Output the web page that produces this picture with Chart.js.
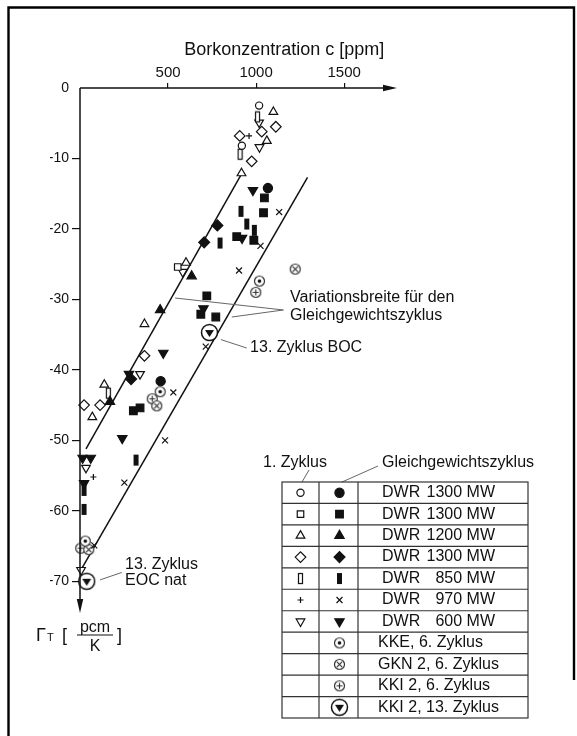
<!DOCTYPE html>
<html>
<head>
<meta charset="utf-8">
<script src="https://cdn.jsdelivr.net/npm/chart.js@4.4.1/dist/chart.umd.min.js"></script>
<style>
  html, body { margin: 0; padding: 0; background: #fff; }
  canvas { display: block; }
</style>
</head>
<body>
<canvas id="gammaChart" width="577" height="736"></canvas>
<script>
// Temperature coefficient vs. boron concentration, several PWR plants
const xTicks = [500, 1000, 1500];
const yTicks = [0, -10, -20, -30, -40, -50, -60, -70];

// [c ppm, gamma pcm/K] — open = 1st cycle, filled = equilibrium cycle
const circleOpen = [[1017, -2.5], [919, -8.2]];
const circleFilled = [[1067, -14.2], [458, -41.6]];
const squareOpen = [[555, -25.4]];
const squareFilled = [[1047, -15.6], [1042, -17.7], [890, -21.1], [987, -21.6], [720, -29.5],
  [686, -32.1], [771, -32.5], [303, -45.8], [341, -45.4]];
const triOpen = [[1098, -3.4], [1061, -7.5], [917, -12.1], [602, -24.8], [366, -33.5],
  [138, -42.1], [70, -46.7]];
const triFilled = [[634, -26.7], [455, -31.5], [170, -44.5]];
const diamondOpen = [[1112, -5.5], [1032, -6.2], [907, -6.8], [975, -10.4], [366, -38.0],
  [23, -45.0], [114, -45.0]];
const diamondFilled = [[780, -19.5], [705, -21.9], [290, -41.3]];
const barOpen = [[1008, -4.1], [909, -9.4], [161, -43.3]];
const barFilled = [[914, -17.5], [947, -19.3], [990, -20.2], [795, -22.0], [318, -52.8],
  [23, -57.1], [23, -59.8]];
const plusOpen = [[960, -6.8], [76, -55.2]];
const crossFilled = [[1131, -17.6], [1025, -22.4], [903, -25.9], [714, -36.7], [530, -43.2],
  [483, -50.0], [252, -56.0], [81, -64.9]];
const downOpen = [[1017, -4.9], [1019, -8.4], [583, -26.1], [341, -40.6], [34, -53.9], [6, -68.4]];
const downFilled = [[982, -14.5], [920, -21.3], [701, -31.3], [473, -37.6], [278, -40.6],
  [240, -49.7], [15, -52.5], [61, -52.5], [23, -56.1]];
const kke6 = [[1019, -27.4], [455, -43.1], [30, -64.3]];
const gkn6 = [[1222, -25.7], [436, -45.1], [50, -65.5]];
const kki6 = [[998, -29.0], [410, -44.1], [4, -65.3]];
const kki13 = [[735, -34.7], [38, -70.0]];

// spread of the equilibrium cycle
const bandLeft = [[915, -12.3], [34, -51.2]];
const bandRight = [[1292, -12.7], [3, -68.5]];

const plantLabels = ['DWR 1300 MW', 'DWR 1300 MW', 'DWR 1200 MW', 'DWR 1300 MW', 'DWR 850 MW',
  'DWR 970 MW', 'DWR 600 MW', 'KKE, 6. Zyklus', 'GKN 2, 6. Zyklus', 'KKI 2, 6. Zyklus',
  'KKI 2, 13. Zyklus'];

const INK = '#111';
const FONT = '"Liberation Sans", Arial, sans-serif';

function markerCanvas(w, h, draw) {
  const cv = document.createElement('canvas');
  cv.width = w;
  cv.height = h;
  const g = cv.getContext('2d');
  g.strokeStyle = INK;
  g.fillStyle = INK;
  g.lineWidth = 1.2;
  draw(g, w / 2, h / 2);
  return cv;
}

function ring(g, cx, cy, r) {
  g.beginPath();
  g.arc(cx, cy, r, 0, Math.PI * 2);
  g.fillStyle = '#fff';
  g.fill();
  g.stroke();
  g.fillStyle = INK;
}

const barOpenImg = markerCanvas(7, 13, (g) => {
  g.fillStyle = '#fff';
  g.fillRect(1.5, 1.5, 4, 10);
  g.strokeRect(1.5, 1.5, 4, 10);
});
const barFilledImg = markerCanvas(7, 13, (g) => g.fillRect(1, 1, 5, 11));
const ringDotImg = markerCanvas(13, 13, (g, cx, cy) => {
  g.strokeStyle = '#333';
  ring(g, cx, cy, 5);
  g.beginPath();
  g.arc(cx, cy, 1.8, 0, Math.PI * 2);
  g.fill();
});
const ringCrossImg = markerCanvas(13, 13, (g, cx, cy) => {
  g.strokeStyle = '#333';
  ring(g, cx, cy, 5);
  g.beginPath();
  g.moveTo(cx - 2.6, cy - 2.6); g.lineTo(cx + 2.6, cy + 2.6);
  g.moveTo(cx + 2.6, cy - 2.6); g.lineTo(cx - 2.6, cy + 2.6);
  g.stroke();
});
const ringPlusImg = markerCanvas(13, 13, (g, cx, cy) => {
  g.strokeStyle = '#333';
  ring(g, cx, cy, 5);
  g.beginPath();
  g.moveTo(cx - 3, cy); g.lineTo(cx + 3, cy);
  g.moveTo(cx, cy - 3); g.lineTo(cx, cy + 3);
  g.stroke();
});
const ringDownImg = markerCanvas(19, 19, (g, cx, cy) => {
  g.lineWidth = 1.5;
  ring(g, cx, cy, 8);
  g.beginPath();
  g.moveTo(cx - 4.5, cy - 2.5);
  g.lineTo(cx + 4.5, cy - 2.5);
  g.lineTo(cx, cy + 4.5);
  g.closePath();
  g.fill();
});

// point styles shared by plot and table
const st = {
  circleOpen: { pointStyle: 'circle', radius: 3.6, filled: false },
  circleFilled: { pointStyle: 'circle', radius: 4.6, filled: true },
  squareOpen: { pointStyle: 'rect', radius: 4.6, filled: false },
  squareFilled: { pointStyle: 'rect', radius: 5.4, filled: true },
  triOpen: { pointStyle: 'triangle', radius: 5, filled: false },
  triFilled: { pointStyle: 'triangle', radius: 5.4, filled: true },
  diamondOpen: { pointStyle: 'rectRot', radius: 5.3, filled: false },
  diamondFilled: { pointStyle: 'rectRot', radius: 5.5, filled: true },
  barOpen: { pointStyle: barOpenImg, radius: 5, filled: false },
  barFilled: { pointStyle: barFilledImg, radius: 5, filled: true },
  plusOpen: { pointStyle: 'cross', radius: 3, filled: false },
  crossFilled: { pointStyle: 'crossRot', radius: 4.2, filled: true },
  downOpen: { pointStyle: 'triangle', radius: 5, rotation: 180, filled: false },
  downFilled: { pointStyle: 'triangle', radius: 5.4, rotation: 180, filled: true },
  kke6: { pointStyle: ringDotImg, radius: 6 },
  gkn6: { pointStyle: ringCrossImg, radius: 6 },
  kki6: { pointStyle: ringPlusImg, radius: 6 },
  kki13: { pointStyle: ringDownImg, radius: 9 },
};

function series(points, s) {
  return {
    data: points.map(([x, y]) => ({ x, y })),
    pointStyle: s.pointStyle,
    pointRadius: s.radius,
    pointRotation: s.rotation || 0,
    pointBackgroundColor: s.filled ? INK : '#fff',
    pointBorderColor: INK,
    pointBorderWidth: 1.2,
    clip: false,
    order: 1,
  };
}

function band(points) {
  return {
    type: 'line',
    data: points.map(([x, y]) => ({ x, y })),
    borderColor: INK,
    borderWidth: 1.5,
    pointRadius: 0,
    showLine: true,
    fill: false,
    clip: false,
    order: 5,
  };
}

const datasets = [
  band(bandLeft), band(bandRight),
  series(circleOpen, st.circleOpen), series(circleFilled, st.circleFilled),
  series(squareOpen, st.squareOpen), series(squareFilled, st.squareFilled),
  series(triOpen, st.triOpen), series(triFilled, st.triFilled),
  series(diamondOpen, st.diamondOpen), series(diamondFilled, st.diamondFilled),
  series(barOpen, st.barOpen), series(barFilled, st.barFilled),
  series(plusOpen, st.plusOpen), series(crossFilled, st.crossFilled),
  series(downOpen, st.downOpen), series(downFilled, st.downFilled),
  series(kke6, st.kke6), series(gkn6, st.gkn6), series(kki6, st.kki6), series(kki13, st.kki13),
];

// rows of the key table: [1st cycle, equilibrium cycle]
const tableRows = [
  [st.circleOpen, st.circleFilled], [st.squareOpen, st.squareFilled],
  [st.triOpen, st.triFilled], [st.diamondOpen, st.diamondFilled],
  [st.barOpen, st.barFilled], [st.plusOpen, st.crossFilled],
  [st.downOpen, st.downFilled], [null, st.kke6], [null, st.gkn6], [null, st.kki6], [null, st.kki13],
];

function symbol(ctx, s, x, y) {
  ctx.save();
  ctx.fillStyle = s.filled ? INK : '#fff';
  ctx.strokeStyle = INK;
  ctx.lineWidth = 1.2;
  Chart.helpers.drawPoint(ctx, {
    pointStyle: s.pointStyle, radius: s.radius, rotation: s.rotation || 0, borderWidth: 1.2,
  }, x, y);
  ctx.restore();
}

function text(ctx, str, x, y, size, align) {
  ctx.font = size + 'px ' + FONT;
  ctx.textAlign = align || 'left';
  ctx.textBaseline = 'middle';
  ctx.fillText(str, x, y);
}

function line(ctx, pts, width, color) {
  ctx.beginPath();
  ctx.moveTo(pts[0][0], pts[0][1]);
  pts.slice(1).forEach(([x, y]) => ctx.lineTo(x, y));
  ctx.lineWidth = width;
  ctx.strokeStyle = color;
  ctx.stroke();
}

const decorPlugin = {
  id: 'decor',
  beforeDraw(chart) {
    const ctx = chart.ctx;
    ctx.save();
    ctx.fillStyle = '#fff';
    ctx.fillRect(0, 0, chart.width, chart.height);
    ctx.restore();
  },
  afterDraw(chart) {
    const ctx = chart.ctx;
    const { left, top, right, bottom } = chart.chartArea;
    const xs = chart.scales.x, ys = chart.scales.y;
    const P = (c, g) => [xs.getPixelForValue(c), ys.getPixelForValue(g)];
    ctx.save();
    ctx.fillStyle = INK;

    // frame
    line(ctx, [[8.5, 736], [8.5, 7.5], [574, 7.5], [574, 680]], 2.4, '#000');

    // axes with arrow heads
    line(ctx, [[left, top], [right - 8, top]], 1.5, INK);
    line(ctx, [[left, top], [left, bottom - 8]], 1.5, INK);
    ctx.beginPath();
    ctx.moveTo(right, top); ctx.lineTo(right - 14, top - 3.2); ctx.lineTo(right - 14, top + 3.2);
    ctx.closePath(); ctx.fill();
    ctx.beginPath();
    ctx.moveTo(left, bottom); ctx.lineTo(left - 3.2, bottom - 14); ctx.lineTo(left + 3.2, bottom - 14);
    ctx.closePath(); ctx.fill();

    // axis titles
    text(ctx, 'Borkonzentration c [ppm]', xs.getPixelForValue(1160), top - 38, 18, 'center');
    const ly = bottom + 23;
    text(ctx, 'Γ', 36, ly, 18);
    text(ctx, 'T', 47, ly + 2, 11);
    text(ctx, '[', 62, ly, 18);
    text(ctx, 'pcm', 95, ly - 8, 16, 'center');
    line(ctx, [[77, ly - 1], [113, ly - 1]], 1.2, INK);
    text(ctx, 'K', 95, ly + 11, 16, 'center');
    text(ctx, ']', 117, ly, 18);

    // annotations inside the plot
    ctx.fillStyle = INK;
    line(ctx, [P(540, -29.8), P(1155, -31.5), P(862, -32.5)], 1, '#666');
    const [vx, vy] = P(1193, -29.8);
    text(ctx, 'Variationsbreite für den', vx, vy, 16);
    text(ctx, 'Gleichgewichtszyklus', vx, vy + 18, 16);
    line(ctx, [P(800, -35.7), P(947, -36.9)], 1, '#666');
    const [bx, by] = P(966, -36.9);
    text(ctx, '13. Zyklus BOC', bx, by, 16);
    line(ctx, [P(114, -69.8), P(237, -68.75)], 1, '#666');
    const [ex, ey] = P(256, -67.6);
    text(ctx, '13. Zyklus', ex, ey, 16);
    text(ctx, 'EOC nat', ex, ey + 16, 16);

    // key table
    const tl = 282, c1 = 319, c2 = 358, tr = 528, tt = 482, tb = 718;
    const rh = (tb - tt) / tableRows.length;
    text(ctx, '1. Zyklus', 263, 463, 16);
    text(ctx, 'Gleichgewichtszyklus', 382, 463, 16);
    line(ctx, [[309, 470], [302, tt]], 1, '#666');
    line(ctx, [[378, 466], [342, tt]], 1, '#666');
    ctx.strokeStyle = '#333';
    ctx.lineWidth = 1.2;
    ctx.strokeRect(tl, tt, tr - tl, tb - tt);
    line(ctx, [[c1, tt], [c1, tb]], 1.2, '#333');
    line(ctx, [[c2, tt], [c2, tb]], 1.2, '#333');
    tableRows.forEach((row, i) => {
      const cy = tt + (i + 0.5) * rh;
      if (i > 0) line(ctx, [[tl, tt + i * rh], [tr, tt + i * rh]], 1.2, '#333');
      if (row[0]) symbol(ctx, row[0], (tl + c1) / 2, cy);
      symbol(ctx, row[1], (c1 + c2) / 2 + 1, cy);
      ctx.fillStyle = INK;
      const lbl = plantLabels[i];
      if (lbl.startsWith('DWR')) {
        text(ctx, 'DWR', 382, cy, 16);
        text(ctx, lbl.slice(4), 495, cy, 16, 'right');
      } else {
        text(ctx, lbl, 378, cy, 16);
      }
    });
    ctx.restore();
  },
};

new Chart(document.getElementById('gammaChart'), {
  type: 'scatter',
  data: { datasets },
  options: {
    responsive: false,
    animation: false,
    events: [],
    layout: { padding: { left: 50, top: 58, right: 180, bottom: 123 } },
    plugins: { legend: { display: false }, tooltip: { enabled: false } },
    scales: {
      x: {
        position: 'top',
        min: 0,
        max: 1800,
        afterBuildTicks: (s) => { s.ticks = xTicks.map((v) => ({ value: v })); },
        afterFit: (s) => { s.height = 30; },
        border: { display: false },
        grid: { drawOnChartArea: false, tickLength: 5, color: INK, lineWidth: 1.2 },
        ticks: { color: INK, padding: 1, font: { family: FONT, size: 15 }, callback: (v) => String(v) },
      },
      y: {
        min: -74.5,
        max: 0,
        afterBuildTicks: (s) => { s.ticks = yTicks.map((v) => ({ value: v })); },
        afterFit: (s) => { s.width = 30; },
        border: { display: false },
        grid: {
          drawOnChartArea: false,
          tickLength: 8,
          lineWidth: 1.2,
          color: (c) => (c.tick && c.tick.value === 0 ? 'rgba(0,0,0,0)' : INK),
        },
        ticks: { color: INK, padding: 3, font: { family: FONT, size: 14 } },
      },
    },
  },
  plugins: [decorPlugin],
});
</script>
</body>
</html>
